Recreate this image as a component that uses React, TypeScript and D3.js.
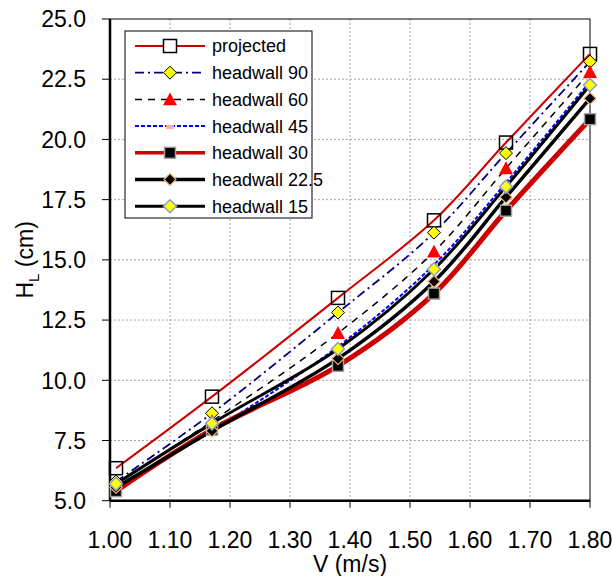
import React from "react";
import * as d3 from "d3";

const velocities = [1.01, 1.17, 1.38, 1.54, 1.66, 1.8];
const projected = [6.35, 9.32, 13.42, 16.64, 19.87, 23.55];
const headwall90 = [5.8, 8.63, 12.81, 16.13, 19.43, 23.23];
const headwall60 = [5.7, 8.3, 11.96, 15.34, 18.8, 22.8];
const headwall45 = [5.6, 7.9, 11.4, 14.8, 18.2, 22.4];
const headwall30 = [5.4, 7.95, 10.6, 13.6, 17.04, 20.84];
const headwall225 = [5.55, 7.9, 10.9, 14.1, 17.6, 21.7];
const headwall15 = [5.7, 8.21, 11.3, 14.61, 18.04, 22.26];

const seriesNames = ["projected", "headwall 90", "headwall 60", "headwall 45", "headwall 30", "headwall 22.5", "headwall 15"];
const xTicks = [1.0, 1.1, 1.2, 1.3, 1.4, 1.5, 1.6, 1.7, 1.8];
const yTicks = [5, 7.5, 10, 12.5, 15, 17.5, 20, 22.5, 25];

type Style = {
  stroke: string;
  width: number;
  dash?: string;
  marker: "square" | "diamond" | "triangle" | "dot";
  size: number;
  fill: string;
  mstroke: string;
  mwidth: number;
};

const styles: Style[] = [
  { stroke: "#CC0000", width: 2, marker: "square", size: 13, fill: "none", mstroke: "#000", mwidth: 1.5 },
  { stroke: "#000080", width: 1.8, dash: "9,4,2,4", marker: "diamond", size: 13, fill: "#FFFF00", mstroke: "#000", mwidth: 1 },
  { stroke: "#000", width: 1.5, dash: "7,6", marker: "triangle", size: 14, fill: "#FF0000", mstroke: "none", mwidth: 0 },
  { stroke: "#0000FF", width: 2, dash: "4,2", marker: "dot", size: 4, fill: "#FFB0A0", mstroke: "none", mwidth: 0 },
  { stroke: "#CC0000", width: 5, marker: "square", size: 11, fill: "#000", mstroke: "#A0A0A0", mwidth: 1.5 },
  { stroke: "#000", width: 3.5, marker: "diamond", size: 12, fill: "#000", mstroke: "#F4B070", mwidth: 1.2 },
  { stroke: "#000", width: 3, marker: "diamond", size: 13, fill: "#FFFF00", mstroke: "#8CA0C8", mwidth: 1.5 },
];

const allSeries = [projected, headwall90, headwall60, headwall45, headwall30, headwall225, headwall15];

function Marker({ cx, cy, s, fillOverride }: { cx: number; cy: number; s: Style; fillOverride?: string }) {
  const h = s.size / 2;
  const fill = fillOverride ?? s.fill;
  if (s.marker === "square")
    return <rect x={cx - h} y={cy - h} width={s.size} height={s.size} fill={fill} stroke={s.mstroke} strokeWidth={s.mwidth} />;
  if (s.marker === "diamond")
    return <path d={`M${cx},${cy - h}L${cx + h},${cy}L${cx},${cy + h}L${cx - h},${cy}Z`} fill={fill} stroke={s.mstroke} strokeWidth={s.mwidth} />;
  if (s.marker === "triangle")
    return <path d={`M${cx},${cy - h}L${cx + h},${cy + h * 0.85}L${cx - h},${cy + h * 0.85}Z`} fill={fill} />;
  return <rect x={cx - h} y={cy - h / 2} width={s.size * 2} height={s.size} fill={fill} transform={`translate(${-h},0)`} />;
}

export default function App() {
  const W = 612, H = 576;
  const x = d3.scaleLinear().domain([1.0, 1.8]).range([110, 590]);
  const y = d3.scaleLinear().domain([5, 25]).range([500.7, 19]);
  const line = d3
    .line<number>()
    .x((_, i) => x(velocities[i]))
    .y((d) => y(d))
    .curve(d3.curveCatmullRom.alpha(0.5));

  const font = "Liberation Sans, Arial, sans-serif";
  const legX = 125, legY = 31, legW = 187, legH = 187, rowH = 26.7;

  return (
    <svg width={W} height={H} style={{ position: "absolute", left: 0, top: 0 }} fontFamily={font}>
      <rect width={W} height={H} fill="#fff" />
      {/* gridlines */}
      {xTicks.slice(1, -1).map((t) => (
        <line key={"gx" + t} x1={x(t)} x2={x(t)} y1={y(25)} y2={y(5)} stroke="#A6A6A6" strokeWidth={1} strokeDasharray="2,2" />
      ))}
      {yTicks.slice(1, -1).map((t) => (
        <line key={"gy" + t} x1={x(1.0)} x2={x(1.8)} y1={y(t)} y2={y(t)} stroke="#A6A6A6" strokeWidth={1} strokeDasharray="2,2" />
      ))}
      {/* frame */}
      <rect x={x(1.0)} y={y(25)} width={x(1.8) - x(1.0)} height={y(5) - y(25)} fill="none" stroke="#000" strokeWidth={1} />
      <line x1={x(1.0)} x2={x(1.0)} y1={y(25)} y2={y(5)} stroke="#000" strokeWidth={2.5} />
      <line x1={x(1.0)} x2={x(1.8)} y1={y(5)} y2={y(5)} stroke="#000" strokeWidth={2.5} />
      {/* ticks */}
      {xTicks.map((t) => (
        <g key={"xt" + t}>
          <line x1={x(t)} x2={x(t)} y1={y(5)} y2={y(5) + 7} stroke="#000" strokeWidth={1} />
          <text x={x(t)} y={548} fontSize={23} textAnchor="middle" fill="#000">
            {t.toFixed(2)}
          </text>
        </g>
      ))}
      {yTicks.map((t) => (
        <g key={"yt" + t}>
          <line x1={x(1.0) - 8} x2={x(1.0)} y1={y(t)} y2={y(t)} stroke="#000" strokeWidth={1} />
          <text x={86} y={y(t)} dy="0.36em" fontSize={23} textAnchor="end" fill="#000">
            {t.toFixed(1)}
          </text>
        </g>
      ))}
      <text x={x(1.4)} y={572} fontSize={23} textAnchor="middle" fill="#000">
        V (m/s)
      </text>
      <text transform={`translate(33,${(y(5) + y(25)) / 2}) rotate(-90)`} fontSize={23} textAnchor="middle" fill="#000">
        H<tspan fontSize={15} dy={6}>L</tspan>
        <tspan dy={-6}> (cm)</tspan>
      </text>
      {/* lines */}
      {allSeries.map((vals, i) => (
        <path key={"l" + i} d={line(vals) ?? ""} fill="none" stroke={styles[i].stroke} strokeWidth={styles[i].width} strokeDasharray={styles[i].dash} />
      ))}
      {/* markers */}
      {allSeries.map((vals, i) => (
        <g key={"m" + i}>
          {vals.map((v, j) => (
            <Marker key={j} cx={x(velocities[j])} cy={y(v)} s={styles[i]} />
          ))}
        </g>
      ))}
      {/* legend */}
      <rect x={legX} y={legY} width={legW} height={legH} fill="#fff" stroke="#000" strokeWidth={1} />
      {seriesNames.map((name, i) => {
        const cy = legY + 15 + i * rowH;
        const s = styles[i];
        return (
          <g key={"lg" + i}>
            <line x1={135} x2={205} y1={cy} y2={cy} stroke={s.stroke} strokeWidth={Math.min(s.width, 3.5)} strokeDasharray={s.dash} />
            <Marker cx={170} cy={cy} s={s} fillOverride={s.fill === "none" ? "#fff" : undefined} />
            <text x={212} y={cy} dy="0.36em" fontSize={18} fill="#000">
              {name}
            </text>
          </g>
        );
      })}
    </svg>
  );
}
